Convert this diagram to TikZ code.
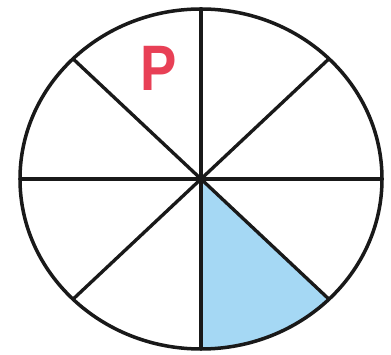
\documentclass[tikz,border=0pt]{standalone}
\usepackage{fontspec}
\setsansfont{Liberation Sans}
\usepackage{xcolor}
\usepackage{graphicx}
\usepackage{tikz}
\usetikzlibrary{positioning}
\definecolor{pieblue}{RGB}{165,216,244}
\definecolor{letterred}{RGB}{232,64,86}

\begin{document}
\begin{tikzpicture}[
        x=0.02cm, y=0.02cm,
        rim/.style={draw=black!90, line width=2pt},
        spoke/.style={draw=black!90, line width=1.9pt},
        shaded/.style={fill=pieblue, draw=none},
        letter/.style={text=letterred, font=\sffamily\bfseries\fontsize{31}{31}\selectfont, inner sep=0pt}
    ]
    \useasboundingbox (-201,-175) rectangle (190,179);

    % Centre and rim points
    \coordinate (O) at (0,0);
    \foreach \a in {0,45,...,315}
        \coordinate (r\a) at ({181*cos(\a)},{170*sin(\a)});

    % Shaded sector
    \fill[shaded] (O) -- (r270) arc[start angle=270, end angle=315, x radius=181, y radius=170] -- cycle;

    % Spokes
    \foreach \a in {0,45,...,315}
        \draw[spoke] (O) -- (r\a);

    % Outer circle
    \draw[rim] (O) ellipse[x radius=181, y radius=170];

    % Letter
    \node[letter] (plabel) at (-42,111) {\scalebox{1}[1.18]{P}};

\end{tikzpicture}
\end{document}
